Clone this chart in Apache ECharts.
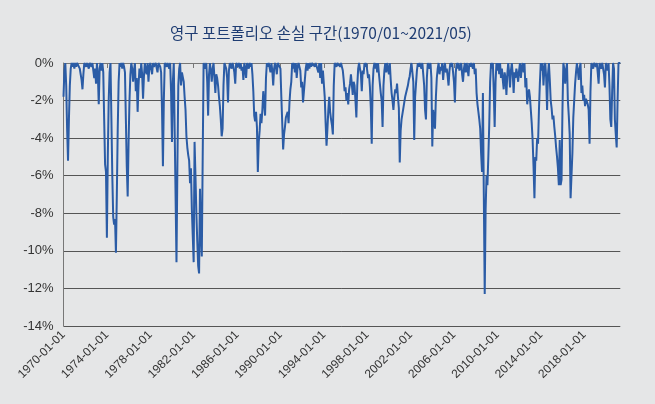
<!DOCTYPE html>
<html>
<head>
<meta charset="utf-8">
<script src="https://cdn.jsdelivr.net/npm/echarts@6/dist/echarts.min.js"></script>
<style>
  html, body { margin: 0; padding: 0; background: #e5e6e7; }
  #chart { width: 655px; height: 404px; }
</style>
</head>
<body>
<div id="chart"></div>
<script>
// 1970-01 ~ 2021-05 월별 손실(%) - 그림에서 읽은 값
const drawdown = [
  -1.8, -0.4, 0, -1.2, -3.5, -5.2, -3.0, -1.2, -0.3, 0, -0.2, 0,          // 1970
  -0.3, 0, -0.2, 0, -0.1, 0, -0.3, -0.6, -0.9, -1.4, -0.6, 0,             // 1971
  0, -0.2, 0, 0, -0.3, 0, 0, -0.2, 0, -0.4, -0.8, -0.3,                   // 1972
  -1.1, 0, -0.6, -2.2, -0.3, 0, -0.4, 0, -0.5, -3.0, -5.4, -5.8,          // 1973
  -9.3, -5.0, -2.0, -0.5, 0, -3.0, -6.0, -8.2, -8.6, -8.3, -10.1, -7.0,   // 1974
  -3.5, -1.0, 0, -0.2, 0, -0.3, 0, -0.2, -0.5, -3.0, -5.5, -7.1,          // 1975
  -4.2, -2.0, -0.6, 0, -0.3, -1.0, -0.4, 0, -1.5, -0.8, -2.6, -1.2,       // 1976
  -0.3, -0.8, 0, -0.6, -1.9, -0.7, 0, -0.4, -0.6, 0, -1.0, -0.2,          // 1977
  0, -0.3, -0.6, 0, -0.2, -0.3, 0, 0, -0.5, 0, 0, -0.2,                   // 1978
  -0.5, -2.5, -5.5, -2.0, 0, 0, -0.2, 0, 0, -0.3, 0, -1.5,                // 1979
  -4.2, -1.0, 0, -3.6, -7.1, -10.6, -5.5, -1.2, -0.3, 0, -1.2, -0.5,      // 1980
  -0.5, -1.0, -1.8, -2.5, -3.9, -4.5, -4.9, -5.2, -6.4, -5.6, -7.8, -9.2, // 1981
  -10.6, -4.2, -6.0, -8.0, -9.5, -10.8, -11.2, -6.7, -9.0, -10.3, -5.0, 0, // 1982
  0, -0.3, 0, -1.0, -2.8, -0.6, 0, -0.4, -1.0, -0.3, 0, -0.8,             // 1983
  -1.6, -0.6, -0.8, -1.2, -1.8, -2.3, -3.0, -3.9, -3.5, -1.2, 0, 0,       // 1984
  -0.3, -0.8, -2.1, -0.4, 0, 0, -0.3, 0, -0.2, -0.5, -1.1, 0,             // 1985
  0, -0.2, 0, -0.3, 0, -0.4, -0.2, -0.9, 0, -0.3, -0.8, 0,                // 1986
  0, -0.3, 0, -0.2, 0, -0.6, -1.5, -2.8, -3.1, -2.6, -3.4, -5.8,          // 1987
  -4.2, -3.6, -2.7, -3.2, -2.5, -1.5, -1.6, -2.8, -0.8, 0, -0.2, 0,       // 1988
  0, -0.5, 0, -0.4, -1.2, -0.3, 0, -0.2, -0.6, 0, 0, 0,                   // 1989
  -0.3, -1.8, -3.2, -4.6, -3.8, -3.4, -2.9, -3.0, -2.6, -3.2, -2.1, -1.4, // 1990
  -1.0, 0, -0.3, 0, -0.5, 0, -0.8, -0.2, 0, 0, -0.4, -1.3,                // 1991
  -1.0, -2.1, -1.5, -0.9, -0.3, 0, -0.4, 0, -0.3, 0, -0.2, 0,             // 1992
  0, 0, -0.2, 0, 0, 0, -0.5, 0, -0.8, 0, -1.1, -0.4,                      // 1993
  -0.5, -1.8, -3.2, -4.4, -3.5, -2.5, -1.8, -2.6, -3.0, -3.3, -3.8, -1.2, // 1994
  0, 0, -0.2, 0, 0, 0, -0.2, 0, 0, -0.4, -0.9, -1.5,                      // 1995
  -1.3, -2.0, -1.6, -2.2, -1.4, -1.1, -0.6, -0.7, -1.7, -1.0, -1.2, -2.0, // 1996
  -2.9, -1.2, -0.3, 0, 0, -0.6, -1.5, -0.4, -0.6, 0, -0.2, 0,             // 1997
  -0.4, -0.8, -0.6, -1.3, -2.4, -4.3, -1.2, -0.3, 0, -0.3, 0, -0.5,       // 1998
  0, -0.6, -1.1, -1.6, -2.0, -3.4, -1.2, -0.4, 0, -0.5, 0, -0.3,          // 1999
  -0.6, 0, -0.9, -1.6, -2.0, -2.5, -1.8, -1.4, -1.6, -1.1, -1.8, -2.4,    // 2000
  -5.3, -3.6, -3.0, -3.0, -2.4, -2.1, -1.8, -1.6, -1.6, -1.2, -0.9, -0.7, // 2001
  -0.3, 0, 0, -1.0, -4.1, -1.8, -1.1, -0.4, 0, -0.2, 0, 0,                // 2002
  -0.3, 0, -0.6, -1.2, -2.5, -3.0, -0.8, 0, 0, -0.3, 0, -0.8,             // 2003
  -4.45, -2.5, -3.0, -3.5, -1.8, -0.8, -0.3, 0, -0.6, -0.2, -0.4, 0,      // 2004
  -0.9, -0.3, 0, -0.5, -0.3, -0.7, -1.2, -0.4, 0, -0.2, 0, -0.5,          // 2005
  -1.0, -2.1, -0.5, 0, -0.3, 0, -0.4, -0.2, 0, -0.6, -1.0, -0.3,          // 2006
  0, -0.5, 0, -0.3, -0.7, 0, -0.2, 0, 0, -0.3, 0, -0.6,                   // 2007
  -0.3, -1.6, -2.2, -2.6, -3.0, -3.5, -4.8, -5.8, -1.6, -7.0, -12.3, -7.8, // 2008
  -6.0, -6.5, -5.0, -3.3, -1.0, 0, -0.3, 0, -1.5, -3.4, -1.0, 0,          // 2009
  -0.4, 0, -0.6, 0, -0.8, -0.3, -0.9, -1.4, -0.5, -0.8, -1.7, -0.6,       // 2010
  0, -0.5, -1.3, -0.4, 0, -0.6, -1.6, -0.5, -0.8, -0.3, -0.6, -1.0,       // 2011
  -0.4, 0, -0.8, -0.2, 0, -0.5, 0, -1.3, -0.8, -2.2, -1.7, -1.4,          // 2012
  -1.8, -2.5, -3.2, -4.1, -5.5, -7.2, -5.0, -5.2, -4.0, -4.3, -2.5, -1.1, // 2013
  0, -0.4, 0, -1.2, -0.3, 0, -0.8, -2.5, -0.6, 0, -0.9, -2.0,             // 2014
  -2.4, -3.0, -2.8, -3.4, -3.9, -4.5, -5.0, -5.6, -6.5, -4.1, -6.5, -6.2, // 2015
  -2.5, 0, -0.3, -1.1, -0.4, 0, -2.0, -2.8, -3.8, -7.2, -6.0, -4.8,       // 2016
  -2.9, -2.0, -1.1, -0.5, 0, -0.4, -0.9, -0.3, 0, -1.6, -1.2, -2.0,       // 2017
  -1.7, -2.3, -1.9, -1.9, -2.2, -2.5, -4.3, -1.5, 0, 0, -0.3, 0,          // 2018
  0, -0.2, 0, -0.5, -1.1, 0, 0, -0.3, 0, 0, -0.6, -1.3,                   // 2019
  0, 0, -0.4, 0, -1.2, -3.0, -3.4, -1.5, 0, -0.3, -3.0, -3.8,             // 2020
  -4.5, -2.0, 0, 0, 0                                                     // 2021
];

const yTicks = { min: -14, max: 0, step: 2 };
const titleText = '영구 포트폴리오 손실 구간(1970/01~2021/05)';

// 월별 카테고리 (1970-01-01 ...)
const months = [];
for (let i = 0; i < drawdown.length; i++) {
  const y = 1970 + Math.floor(i / 12);
  const m = (i % 12) + 1;
  months.push(y + '-' + (m < 10 ? '0' + m : m) + '-01');
}

const chart = echarts.init(document.getElementById('chart'));
chart.setOption({
  backgroundColor: '#e5e6e7',
  animation: false,
  title: {
    text: titleText,
    left: 165,
    top: 20,
    textStyle: {
      fontFamily: 'Noto Sans CJK KR',
      fontSize: 15.5,
      fontWeight: 'normal',
      color: '#1f3d73'
    }
  },
  grid: { left: 63.5, right: 34.7, top: 63, bottom: 78 },
  xAxis: {
    type: 'category',
    data: months,
    boundaryGap: false,
    axisLine: { lineStyle: { color: '#777', width: 1 } },
    axisTick: { interval: 47, length: 5, lineStyle: { color: '#777' } },
    axisLabel: {
      interval: 47,
      rotate: 45,
      margin: 7,
      fontSize: 12,
      color: '#333',
      fontFamily: 'Liberation Sans'
    },
    splitLine: { show: false }
  },
  yAxis: {
    type: 'value',
    min: yTicks.min,
    max: yTicks.max,
    interval: yTicks.step,
    axisLine: { show: true, lineStyle: { color: '#777', width: 1 } },
    axisTick: { show: false },
    axisLabel: {
      formatter: '{value}%',
      fontSize: 13,
      margin: 10,
      color: '#333',
      fontFamily: 'Liberation Sans'
    },
    splitLine: { lineStyle: { color: '#555', width: 1 } }
  },
  series: [{
    type: 'line',
    data: drawdown,
    showSymbol: false,
    lineStyle: { color: '#2b5ca6', width: 2 },
    itemStyle: { color: '#2b5ca6' }
  }]
});
</script>
</body>
</html>
